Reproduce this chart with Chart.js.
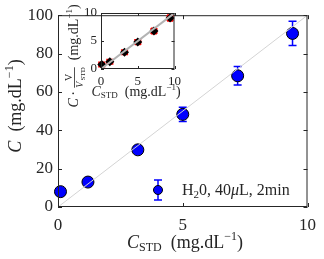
<!DOCTYPE html>
<html>
<head>
<meta charset="utf-8">
<script src="https://cdn.jsdelivr.net/npm/chart.js@4.4.0/dist/chart.umd.min.js"></script>
<style>
  html, body { margin: 0; padding: 0; background: #fff; }
  #wrap { position: relative; width: 324px; height: 259px; }
  #main { position: absolute; left: 0; top: 0; }
  #inset { position: absolute; left: 56px; top: 0; }
</style>
</head>
<body>
<div id="wrap">
  <canvas id="main" width="324" height="259"></canvas>
  <canvas id="inset" width="130" height="110"></canvas>
</div>
<script>
// data
const cStd = [0.1, 1.2, 3.2, 5.0, 7.2, 9.4];
const cMeasured = [8, 13, 29.8, 48.3, 68.4, 90.5];
const cMeasuredErr = [0.8, 0.8, 1.5, 3.7, 4.8, 6.3];
const cScaled = [0.8, 1.3, 3.0, 4.8, 6.8, 9.1];
const cScaledErr = [0.35, 0.35, 0.35, 0.4, 0.45, 0.5];
const cStdErr = [0.35, 0.35, 0.35, 0.35, 0.35, 0.35];
const identityMain = [[0, 0], [10, 100]];
const identityInset = [[0, 0], [10, 10]];
const mainXTicks = [0, 5, 10];
const mainYTicks = [0, 20, 40, 60, 80, 100];
const insetXTicks = [0, 5, 10];
const insetYTicks = [0, 5, 10];

const SERIF = "'Liberation Serif', 'DejaVu Serif', serif";
const ink = "#262626";

function setTicks(list) {
  return scale => { scale.ticks = list.map(v => ({ value: v })); };
}

function drawRich(ctx, parts, x, y) {
  let w = 0;
  parts.forEach(p => { ctx.font = p.f; w += ctx.measureText(p.t).width; });
  let cx = x - w / 2;
  parts.forEach(p => {
    ctx.font = p.f;
    ctx.fillText(p.t, cx, y + (p.dy || 0));
    cx += ctx.measureText(p.t).width;
  });
}

// box with inward ticks on all four sides
const frame = {
  id: "frame",
  afterDraw(chart, args, opts) {
    const { ctx, chartArea: a, scales } = chart;
    const len = opts.len || 4;
    ctx.save();
    ctx.strokeStyle = ink;
    ctx.lineWidth = 1;
    ctx.strokeRect(a.left + 0.5, a.top + 0.5, a.width - 1, a.height - 1);
    ctx.beginPath();
    scales.x.ticks.forEach(t => {
      const px = Math.round(scales.x.getPixelForValue(t.value)) + 0.5;
      ctx.moveTo(px, a.bottom); ctx.lineTo(px, a.bottom - len);
      ctx.moveTo(px, a.top); ctx.lineTo(px, a.top + len);
    });
    scales.y.ticks.forEach(t => {
      const py = Math.round(scales.y.getPixelForValue(t.value)) + 0.5;
      ctx.moveTo(a.left, py); ctx.lineTo(a.left + len, py);
      ctx.moveTo(a.right, py); ctx.lineTo(a.right - len, py);
    });
    ctx.stroke();
    ctx.restore();
  }
};

// error bars drawn behind the markers
const errorBars = {
  id: "errorBars",
  beforeDatasetsDraw(chart) {
    const { ctx, scales } = chart;
    chart.data.datasets.forEach(ds => {
      if (!ds.yErr) return;
      ctx.save();
      ctx.strokeStyle = ds.errColor;
      ctx.lineWidth = ds.errWidth || 1.5;
      ds.data.forEach((p, i) => {
        const px = scales.x.getPixelForValue(p.x);
        const py = scales.y.getPixelForValue(p.y);
        const y1 = scales.y.getPixelForValue(p.y - ds.yErr[i]);
        const y2 = scales.y.getPixelForValue(p.y + ds.yErr[i]);
        const c = ds.cap;
        ctx.beginPath();
        ctx.moveTo(px, y1); ctx.lineTo(px, y2);
        ctx.moveTo(px - c, y1); ctx.lineTo(px + c, y1);
        ctx.moveTo(px - c, y2); ctx.lineTo(px + c, y2);
        if (ds.xErr) {
          const x1 = scales.x.getPixelForValue(p.x - ds.xErr[i]);
          const x2 = scales.x.getPixelForValue(p.x + ds.xErr[i]);
          ctx.moveTo(x1, py); ctx.lineTo(x2, py);
          ctx.moveTo(x1, py - c); ctx.lineTo(x1, py + c);
          ctx.moveTo(x2, py - c); ctx.lineTo(x2, py + c);
        }
        ctx.stroke();
      });
      ctx.restore();
    });
  }
};

const mainLabels = {
  id: "mainLabels",
  afterDraw(chart) {
    const ctx = chart.ctx;
    ctx.save();
    ctx.fillStyle = ink;
    ctx.textAlign = "left";
    ctx.textBaseline = "alphabetic";
    const big = "18px " + SERIF, it = "italic 18px " + SERIF, sm = "12px " + SERIF;
    drawRich(ctx, [
      { t: "C", f: it }, { t: "STD", f: sm, dy: 3 },
      { t: "  (mg.dL", f: big }, { t: "\u22121", f: sm, dy: -8 }, { t: ")", f: big }
    ], 185, 248);
    ctx.translate(21, 106);
    ctx.rotate(-Math.PI / 2);
    drawRich(ctx, [
      { t: "C", f: it }, { t: "  (mg.dL", f: big },
      { t: "\u22121", f: sm, dy: -8 }, { t: ")", f: big }
    ], 0, 0);
    ctx.restore();

    // legend
    ctx.save();
    const lx = 158, ly = 190;
    ctx.strokeStyle = "#0000ff";
    ctx.lineWidth = 1.5;
    ctx.beginPath();
    ctx.moveTo(lx, ly - 10); ctx.lineTo(lx, ly + 10);
    ctx.moveTo(lx - 4, ly - 10); ctx.lineTo(lx + 4, ly - 10);
    ctx.moveTo(lx - 4, ly + 10); ctx.lineTo(lx + 4, ly + 10);
    ctx.stroke();
    ctx.beginPath();
    ctx.arc(lx, ly, 4.5, 0, Math.PI * 2);
    ctx.fillStyle = "#0000ff";
    ctx.fill();
    ctx.strokeStyle = "#000";
    ctx.lineWidth = 1;
    ctx.stroke();
    ctx.fillStyle = ink;
    ctx.textAlign = "left";
    const f = "16px " + SERIF;
    let cx = 182;
    const seg = (t, font, dy) => { ctx.font = font; ctx.fillText(t, cx, 195 + dy); cx += ctx.measureText(t).width; };
    seg("H", f, 0); seg("2", "11px " + SERIF, 3); seg("0, 40", f, 0);
    seg("\u03bc", "italic 16px " + SERIF, 0); seg("L, 2min", f, 0);
    ctx.restore();
  }
};

const insetLabels = {
  id: "insetLabels",
  afterDraw(chart) {
    const ctx = chart.ctx;
    ctx.save();
    ctx.fillStyle = ink;
    ctx.textAlign = "left";
    ctx.textBaseline = "alphabetic";
    const big = "14px " + SERIF, it = "italic 14px " + SERIF, sm = "9px " + SERIF;
    drawRich(ctx, [
      { t: "C", f: it }, { t: "STD", f: sm, dy: 2 },
      { t: "  (mg.dL", f: big }, { t: "\u22121", f: sm, dy: -6 }, { t: ")", f: big }
    ], 80, 96);
    // rotated y title with the V/V_STD fraction
    ctx.translate(22, 56);
    ctx.rotate(-Math.PI / 2);
    const fr = "10px " + SERIF, frs = "7px " + SERIF;
    ctx.font = fr; const wV = ctx.measureText("V").width;
    ctx.font = frs; const wS = ctx.measureText("STD").width;
    const wFrac = wV + wS;
    ctx.font = it; const wC = ctx.measureText("C \u00b7 ").width;
    ctx.font = big; const wR = ctx.measureText("  (mg.dL)").width;
    ctx.font = sm; const wE = ctx.measureText("\u22121").width;
    let cx = -(wC + wFrac + wR + wE) / 2;
    ctx.font = it; ctx.fillText("C", cx, 0);
    ctx.font = big; ctx.fillText(" \u00b7 ", cx + ctx.measureText("C").width - 1, 0);
    cx += wC;
    ctx.font = fr; ctx.fillText("V", cx + (wFrac - wV) / 2, -6);
    ctx.fillRect(cx, -4, wFrac, 0.8);
    ctx.font = "italic 10px " + SERIF; ctx.fillText("V", cx, 5);
    ctx.font = frs; ctx.fillText("STD", cx + wV, 7);
    cx += wFrac;
    ctx.font = big; ctx.fillText("  (mg.dL", cx, 0); cx += ctx.measureText("  (mg.dL").width;
    ctx.font = sm; ctx.fillText("\u22121", cx, -6); cx += wE;
    ctx.font = big; ctx.fillText(")", cx, 0);
    ctx.restore();
  }
};

function axis(ticks, min, max, size, pad, fit) {
  return {
    type: "linear", min: min, max: max,
    afterBuildTicks: setTicks(ticks),
    afterFit: fit,
    grid: { display: false, drawTicks: false },
    border: { display: false },
    ticks: { color: ink, font: { family: SERIF, size: size }, padding: pad, maxRotation: 0 }
  };
}

new Chart(document.getElementById("main"), {
  type: "scatter",
  data: {
    datasets: [
      {
        type: "line",
        data: identityMain.map(p => ({ x: p[0], y: p[1] })),
        borderColor: "#d4d4d4", borderWidth: 1, pointRadius: 0, fill: false
      },
      {
        data: cStd.map((x, i) => ({ x: x, y: cMeasured[i] })),
        yErr: cMeasuredErr, errColor: "#0000ff", cap: 4,
        pointStyle: "circle", pointRadius: 6,
        backgroundColor: "#0000ff", borderColor: "#000", borderWidth: 1,
        clip: false
      }
    ]
  },
  options: {
    responsive: false, animation: false, devicePixelRatio: 1,
    layout: { autoPadding: false, padding: { left: 0, right: 11, top: 5, bottom: 0 } },
    scales: {
      x: axis(mainXTicks, 0, 10, 17, 8, s => { s.height = 52; }),
      y: axis(mainYTicks, 0, 100, 17, 5, s => { s.width = 58; })
    },
    plugins: { legend: { display: false }, tooltip: { enabled: false }, frame: { len: 4 } }
  },
  plugins: [frame, errorBars, mainLabels]
});

new Chart(document.getElementById("inset"), {
  type: "scatter",
  data: {
    datasets: [
      {
        type: "line",
        data: identityInset.map(p => ({ x: p[0], y: p[1] })),
        borderColor: "#b3b3b3", borderWidth: 2, pointRadius: 0, fill: false
      },
      {
        data: cStd.map((x, i) => ({ x: x, y: cScaled[i] })),
        yErr: cScaledErr, xErr: cStdErr, errColor: "#ff0000", cap: 3, errWidth: 2,
        pointStyle: "rectRot", pointRadius: 4.5,
        backgroundColor: "#000", borderColor: "#000", borderWidth: 0,
        clip: false
      }
    ]
  },
  options: {
    responsive: false, animation: false, devicePixelRatio: 1,
    layout: { autoPadding: false, padding: { left: 0, right: 8, top: 13, bottom: 0 } },
    scales: {
      x: axis(insetXTicks, 0, 10, 13, 5, s => { s.height = 41; }),
      y: axis(insetYTicks, 0, 10, 13, 4, s => { s.width = 45; })
    },
    plugins: { legend: { display: false }, tooltip: { enabled: false }, frame: { len: 3 } }
  },
  plugins: [frame, errorBars, insetLabels]
});
</script>
</body>
</html>
